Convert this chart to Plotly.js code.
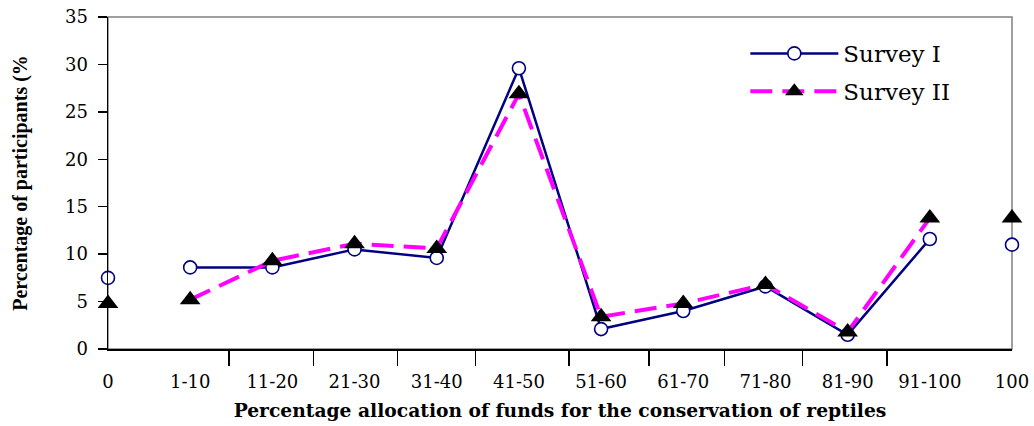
<!DOCTYPE html>
<html>
<head>
<meta charset="utf-8">
<script src="https://cdn.plot.ly/plotly-3.0.1.min.js"></script>
<style>html,body{margin:0;padding:0;background:#fff;}#chart{width:1034px;height:426px;}</style>
</head>
<body>
<div id="chart"></div>
<script>
// Data
var categories = ["0", "1-10", "11-20", "21-30", "31-40", "41-50", "51-60", "61-70", "71-80", "81-90", "91-100", "100"];
var surveyI  = [7.5, 8.6, 8.6, 10.5, 9.6, 29.6, 2.1, 4.0, 6.6, 1.5, 11.6, 11.0];
var surveyII = [4.8, 5.2, 9.3, 11.1, 10.6, 26.9, 3.4, 4.8, 6.8, 1.8, 13.8, 13.8];
var yTicks = [0, 5, 10, 15, 20, 25, 30, 35];

var last = categories.length - 1;
var inner = function (arr) { return arr.slice(1, last); };
var ends = function (arr) { return [arr[0], arr[last]]; };

var navy = "#000080";
var magenta = "#FF00FF";

var traces = [
  {
    name: "Survey I", legendgroup: "a",
    x: inner(categories), y: inner(surveyI),
    type: "scatter", mode: "lines+markers", cliponaxis: false,
    line: {color: navy, width: 2.5},
    marker: {symbol: "circle", size: 13, color: "#ffffff", line: {color: navy, width: 1.6}}
  },
  {
    name: "Survey I", legendgroup: "a", showlegend: false,
    x: ends(categories), y: ends(surveyI),
    type: "scatter", mode: "markers", cliponaxis: false,
    marker: {symbol: "circle", size: 13, color: "#ffffff", line: {color: navy, width: 1.6}}
  },
  {
    name: "Survey II", legendgroup: "b",
    x: inner(categories), y: inner(surveyII),
    type: "scatter", mode: "lines+markers", cliponaxis: false,
    line: {color: magenta, width: 4, dash: "22px,10px"},
    marker: {symbol: "triangle-up", size: 18, color: "#000000"}
  },
  {
    name: "Survey II", legendgroup: "b", showlegend: false,
    x: ends(categories), y: ends(surveyII),
    type: "scatter", mode: "markers", cliponaxis: false,
    marker: {symbol: "triangle-up", size: 18, color: "#000000"}
  },
  {
    // invisible helper trace to activate the tick-mark overlay axis
    x: [0, 11], y: [0, 0], xaxis: "x2", type: "scatter", mode: "markers",
    marker: {opacity: 0}, showlegend: false, hoverinfo: "skip"
  }
];

var layout = {
  width: 1034, height: 426,
  margin: {l: 108, r: 22, t: 17, b: 77},
  paper_bgcolor: "#ffffff", plot_bgcolor: "#ffffff",
  font: {family: "DejaVu Serif", color: "#000000", size: 18},
  showlegend: true,
  legend: {
    x: 0.705, y: 0.955, xanchor: "left", yanchor: "top",
    bgcolor: "rgba(0,0,0,0)", borderwidth: 0,
    font: {family: "DejaVu Serif", size: 23, color: "#000000"},
    itemwidth: 88, tracegroupgap: 5, traceorder: "grouped"
  },
  xaxis: {
    type: "category", categoryorder: "array", categoryarray: categories,
    range: [0, 11],
    showgrid: false, zeroline: false,
    showline: true, linecolor: "#000000", linewidth: 1.5,
    ticks: "outside", ticklen: 16, tickcolor: "rgba(0,0,0,0)",
    tickfont: {family: "DejaVu Serif", size: 18, color: "#000000"},
    title: {
      text: "Percentage allocation of funds for the conservation of reptiles",
      font: {family: "DejaVu Serif", size: 18.7, color: "#000000", weight: "bold"},
      standoff: 13
    }
  },
  xaxis2: {
    overlaying: "x", anchor: "y", range: [0, 11],
    showgrid: false, zeroline: false, showline: false,
    tickvals: [1.47, 2.5, 3.52, 4.47, 5.61, 6.58, 7.5, 8.45, 9.48],
    showticklabels: false,
    ticks: "outside", ticklen: 16, tickwidth: 1.5, tickcolor: "#000000"
  },
  yaxis: {
    range: [0, 35], tickvals: yTicks,
    showgrid: false, zeroline: false,
    showline: true, linecolor: "#000000", linewidth: 1.5,
    ticks: "outside", ticklen: 9, tickwidth: 1.5, tickcolor: "#000000",
    tickfont: {family: "DejaVu Serif", size: 18, color: "#000000"},
    ticklabelstandoff: 6,
    title: {
      text: "Percentage of participants (%",
      font: {family: "Liberation Serif", size: 20, color: "#000000", weight: "bold"},
      standoff: 32
    }
  },
  shapes: [
    {type: "rect", xref: "paper", yref: "paper", x0: 0, x1: 1, y0: 0, y1: 1,
     line: {color: "#808080", width: 1.5}, layer: "below"}
  ]
};

Plotly.newPlot("chart", traces, layout, {displayModeBar: false, staticPlot: true});
</script>
</body>
</html>
